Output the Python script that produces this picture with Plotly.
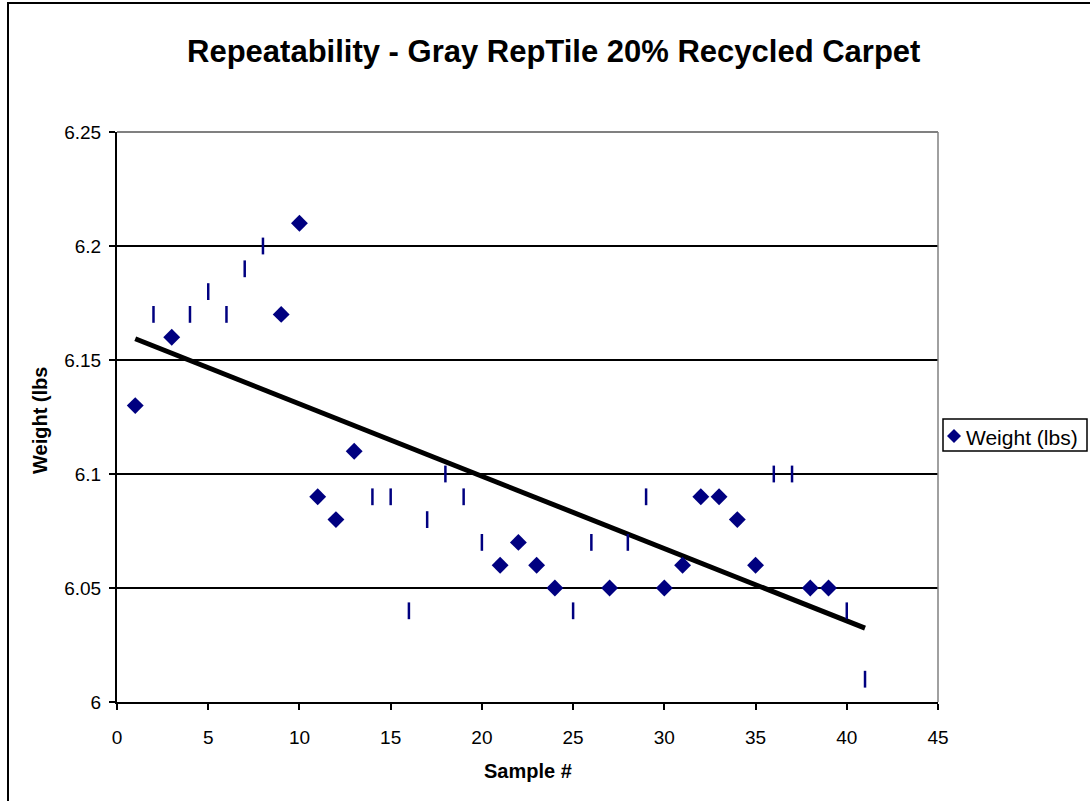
import numpy as np
import plotly.graph_objects as go

samples = list(range(1, 42))
weights = [6.13, 6.17, 6.16, 6.17, 6.18, 6.17, 6.19, 6.20, 6.17, 6.21,
           6.09, 6.08, 6.11, 6.09, 6.09, 6.04, 6.08, 6.10, 6.09, 6.07,
           6.06, 6.07, 6.06, 6.05, 6.04, 6.07, 6.05, 6.07, 6.09, 6.05,
           6.06, 6.09, 6.09, 6.08, 6.06, 6.10, 6.10, 6.05, 6.05, 6.04,
           6.01]
# samples whose marker renders as a thin vertical tick in the reference
tick_samples = [2, 4, 5, 6, 7, 8, 14, 15, 16, 17, 18, 19, 20, 25, 26, 28, 29, 36, 37, 40, 41]

xt_vals = [0, 5, 10, 15, 20, 25, 30, 35, 40, 45]
yt_vals = [6, 6.05, 6.1, 6.15, 6.2, 6.25]
yt_text = ["6", "6.05", "6.1", "6.15", "6.2", "6.25"]

title_text = "Repeatability - Gray RepTile 20% Recycled Carpet"
x_title = "Sample #"
y_title = "Weight (lbs"
series_name = "Weight (lbs)"

NAVY = "#000080"
FONT = "Liberation Sans, Arial, sans-serif"

dia_x = [s for s in samples if s not in tick_samples]
dia_y = [weights[s - 1] for s in dia_x]
tk_x = [s for s in samples if s in tick_samples]
tk_y = [weights[s - 1] for s in tk_x]

slope, intercept = np.polyfit(samples, weights, 1)
trend_x = [samples[0], samples[-1]]
trend_y = [intercept + slope * x for x in trend_x]

fig = go.Figure()
fig.add_trace(go.Scatter(x=trend_x, y=trend_y, mode="lines",
                         line=dict(color="black", width=5), showlegend=False,
                         hoverinfo="skip"))
fig.add_trace(go.Scatter(x=tk_x, y=tk_y, mode="markers", showlegend=False,
                         name=series_name,
                         marker=dict(symbol="line-ns", size=12, color=NAVY,
                                     line=dict(color=NAVY, width=2.5))))
fig.add_trace(go.Scatter(x=dia_x, y=dia_y, mode="markers", name=series_name,
                         showlegend=False,
                         marker=dict(symbol="diamond", size=13, color=NAVY,
                                     line=dict(width=0))))

L, R, T, B = 117, 152, 132, 99
PW, PH = 1090 - L - R, 801 - T - B


def px(x):
    return (x - L) / PW


def py(y):
    return (801 - B - y) / PH


# manual legend (box, diamond symbol, label)
lg_cx, lg_cy, lg_r = 954, 436, 7
diamond_path = "M {} {} L {} {} L {} {} L {} {} Z".format(
    px(lg_cx), py(lg_cy - lg_r), px(lg_cx + lg_r), py(lg_cy),
    px(lg_cx), py(lg_cy + lg_r), px(lg_cx - lg_r), py(lg_cy))

fig.update_layout(
    width=1090, height=801,
    margin=dict(l=L, r=R, t=T, b=B, autoexpand=False),
    paper_bgcolor="white", plot_bgcolor="white",
    font=dict(family=FONT, size=19, color="black"),
    title=dict(text="<b>" + title_text + "</b>", x=0.508, xanchor="center",
               y=1 - 51 / 801, yanchor="middle", font=dict(size=31, family=FONT)),
    showlegend=False,
    xaxis=dict(range=[0, 45], tickvals=xt_vals, showgrid=False, zeroline=False,
               showline=True, linecolor="black", linewidth=2,
               ticks="outside", ticklen=6, tickwidth=2, tickcolor="black",
               ticklabelstandoff=11, tickfont=dict(size=19, family=FONT)),
    yaxis=dict(range=[6, 6.25], tickvals=yt_vals, ticktext=yt_text,
               showgrid=True, gridcolor="black", gridwidth=1.5, zeroline=False,
               showline=True, linecolor="black", linewidth=2,
               ticks="outside", ticklen=6, tickwidth=2, tickcolor="black",
               ticklabelstandoff=4, tickfont=dict(size=19, family=FONT)),
    annotations=[
        dict(text="<b>" + x_title + "</b>", xref="paper", yref="paper",
             x=px(528), y=py(771), xanchor="center", yanchor="middle",
             showarrow=False, font=dict(size=20, family=FONT)),
        dict(text="<b>" + y_title + "</b>", xref="paper", yref="paper",
             x=px(40), y=py(421), xanchor="center", yanchor="middle",
             textangle=-90, showarrow=False, font=dict(size=20, family=FONT)),
        dict(text=series_name, xref="paper", yref="paper",
             x=px(965), y=py(437), xanchor="left", yanchor="middle",
             showarrow=False, borderpad=0, font=dict(size=21, family=FONT)),
    ],
    shapes=[
        dict(type="line", xref="paper", yref="paper", x0=0, x1=1, y0=1, y1=1,
             line=dict(color="#808080", width=2), layer="above"),
        dict(type="line", xref="paper", yref="paper", x0=1, x1=1, y0=0, y1=1,
             line=dict(color="#808080", width=1.5), layer="above"),
        dict(type="rect", xref="paper", yref="paper",
             x0=px(8), x1=1.4, y0=-0.3, y1=py(3),
             line=dict(color="black", width=2), fillcolor="rgba(0,0,0,0)", layer="below"),
        dict(type="rect", xref="paper", yref="paper",
             x0=px(943), x1=px(1087), y0=py(451), y1=py(419),
             line=dict(color="black", width=1.5), fillcolor="white", layer="below"),
        dict(type="path", xref="paper", yref="paper", path=diamond_path,
             line=dict(width=0), fillcolor=NAVY, layer="above"),
    ],
)

fig.write_html("out.html")
